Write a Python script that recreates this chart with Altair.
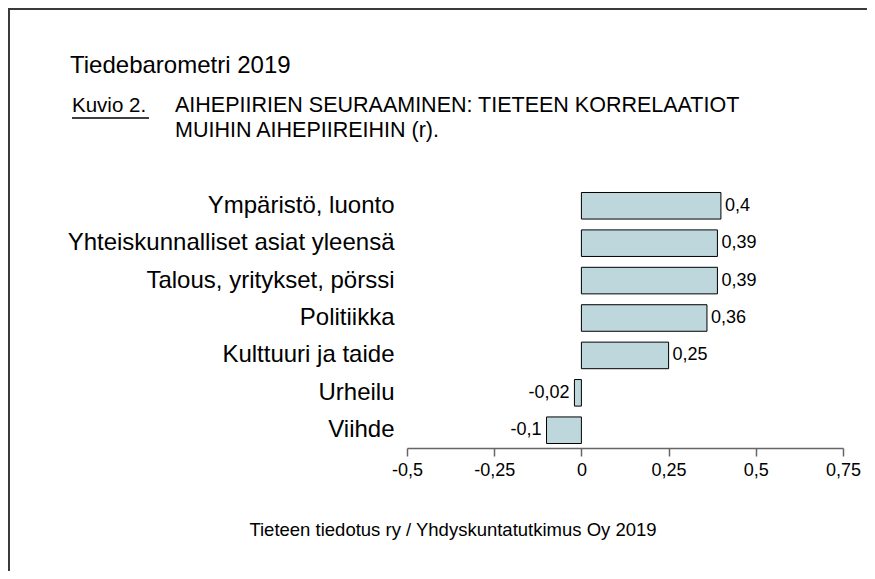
import altair as alt
import pandas as pd

categories = ["Ympäristö, luonto", "Yhteiskunnalliset asiat yleensä", "Talous, yritykset, pörssi",
              "Politiikka", "Kulttuuri ja taide", "Urheilu", "Viihde"]
values = [0.40, 0.39, 0.39, 0.36, 0.25, -0.02, -0.10]
x_ticks = [-0.5, -0.25, 0, 0.25, 0.5, 0.75]

title_top = "Tiedebarometri 2019"
fig_no = "Kuvio 2."
title_l1 = "AIHEPIIRIEN SEURAAMINEN: TIETEEN KORRELAATIOT"
title_l2 = "MUIHIN AIHEPIIREIHIN (r)."
footer = "Tieteen tiedotus ry / Yhdyskuntatutkimus Oy 2019"

FONT = "Liberation Sans"

df = pd.DataFrame({"aihe": categories, "r": values})
df["label"] = [str(v).replace(".", ",") for v in values]

y_enc = alt.Y("aihe:N", sort=categories,
              scale=alt.Scale(paddingInner=0.29, paddingOuter=0.12),
              axis=alt.Axis(title=None, ticks=False, domain=False, labelFontSize=24,
                            labelColor="#000", labelFont=FONT, labelPadding=13, labelLimit=600))
x_enc = alt.X("r:Q", scale=alt.Scale(domain=[-0.5, 0.75], nice=False),
              axis=alt.Axis(title=None, values=x_ticks, grid=False,
                            labelExpr="replace(toString(datum.value), '.', ',')",
                            domainColor="#666", tickColor="#666", tickSize=8,
                            domainWidth=1.5, tickWidth=1.5, labelFontSize=18,
                            labelFont=FONT, labelColor="#000", labelPadding=5,
                            labelFlush=False))

base = alt.Chart(df)
bars = base.mark_bar(fill="#bdd7dc", stroke="#000", strokeWidth=1).encode(y=y_enc, x=x_enc)
pos_txt = base.transform_filter("datum.r >= 0").mark_text(
    align="left", baseline="middle", dx=4, fontSize=18, font=FONT, color="#000"
).encode(y=y_enc, x=x_enc, text="label:N")
neg_txt = base.transform_filter("datum.r < 0").mark_text(
    align="right", baseline="middle", dx=-5, fontSize=18, font=FONT, color="#000"
).encode(y=y_enc, x=x_enc, text="label:N")

one = alt.Data(values=[{"k": 1}])


def txt(s, x, y, size, align="left"):
    return alt.Chart(one).mark_text(align=align, baseline="middle", fontSize=size,
                                    font=FONT, color="#000").encode(
        x=alt.value(x), y=alt.value(y), text=alt.value(s))


def hrule(x1, x2, y, color, w):
    return alt.Chart(one).mark_rule(color=color, strokeWidth=w).encode(
        x=alt.value(x1), x2=alt.value(x2), y=alt.value(y))


def vrule(x, y1, y2, color, w):
    return alt.Chart(one).mark_rule(color=color, strokeWidth=w).encode(
        x=alt.value(x), y=alt.value(y1), y2=alt.value(y2))


chart = alt.layer(
    bars, pos_txt, neg_txt,
    txt(title_top, -337, -122, 24),
    txt(fig_no, -335, -82, 20.5),
    hrule(-335, -258, -70, "#000", 1.5),
    txt(title_l1, -232, -82, 21.5),
    txt(title_l2, -232, -57, 21.5),
    txt(footer, 46, 342, 18.5, align="center"),
    vrule(-398, -180, 383, "#3a3a3a", 2),
    hrule(-399, 460, -179, "#3a3a3a", 2),
).properties(
    width=436, height=260,
    padding={"left": 399, "top": 180, "right": 24, "bottom": 123},
    autosize=alt.AutoSizeParams(type="none"),
).configure(font=FONT).configure_view(strokeWidth=0, stroke="transparent")

chart.save("out.html", embed_options={"renderer": "svg", "actions": False})
